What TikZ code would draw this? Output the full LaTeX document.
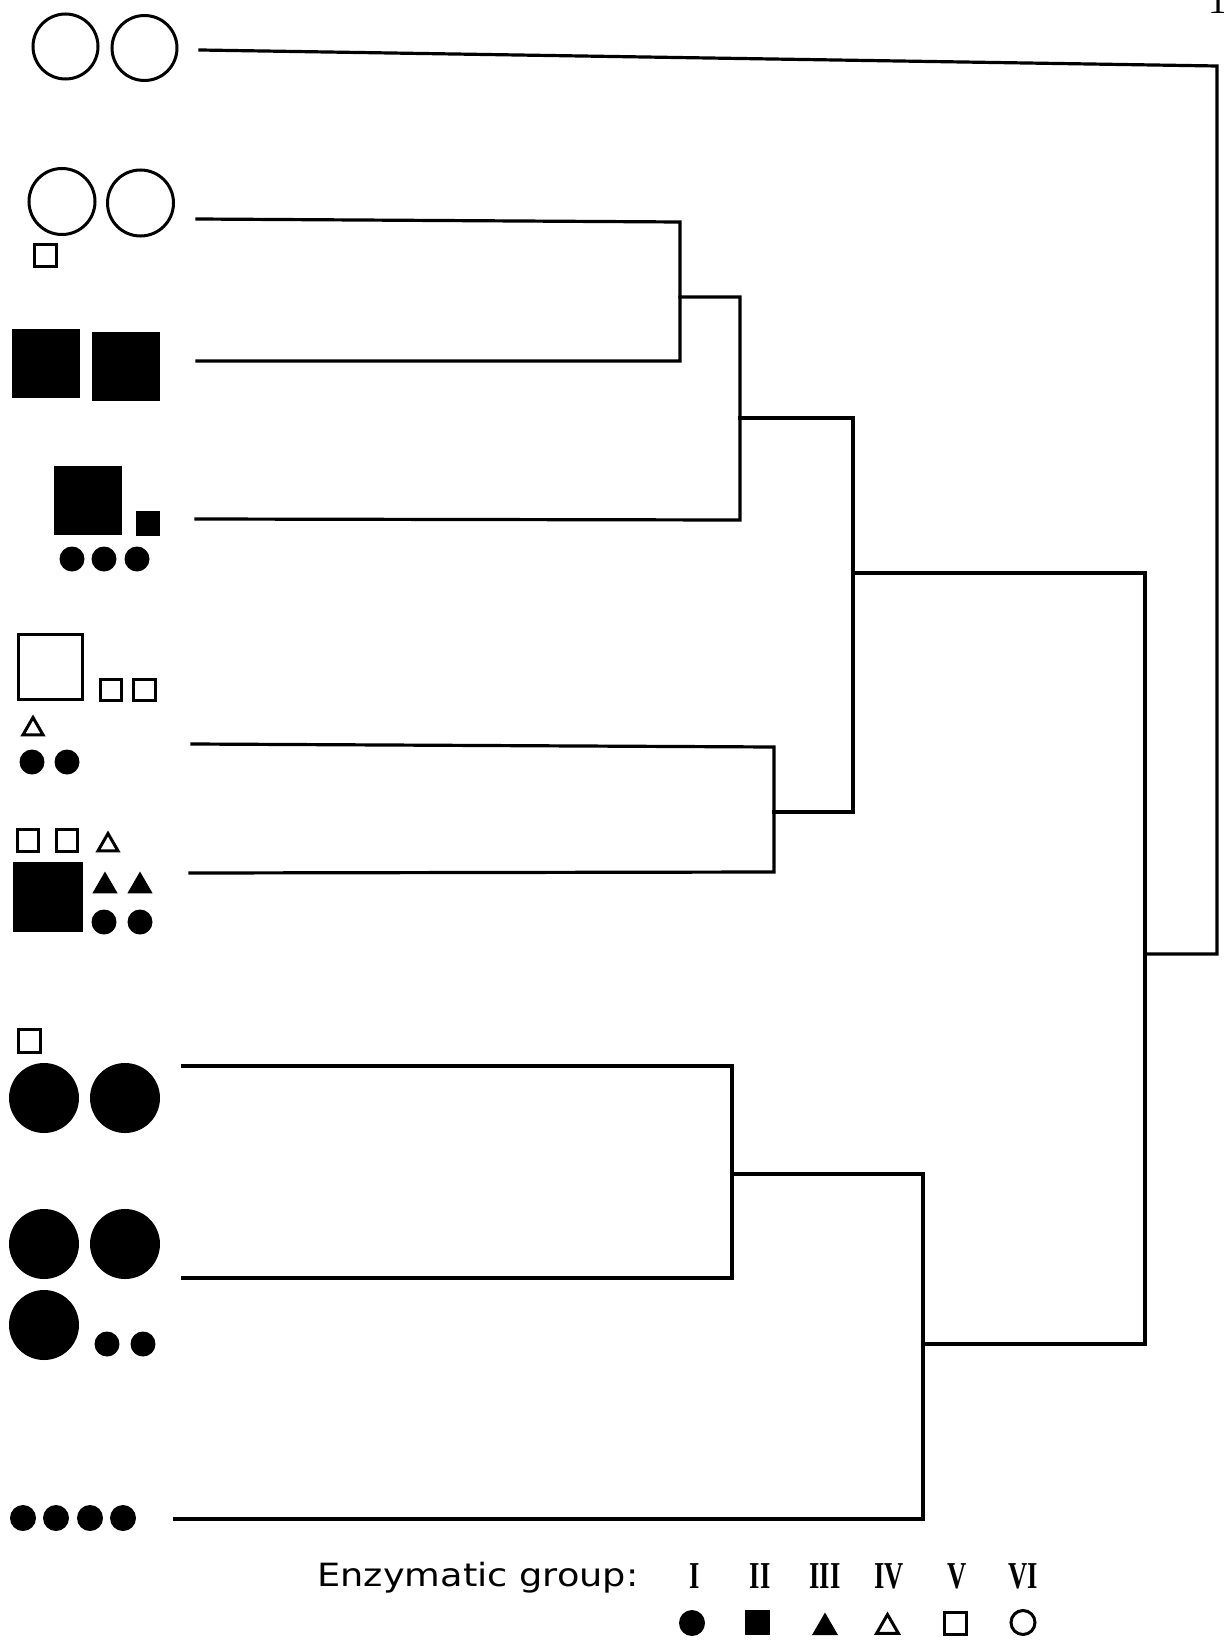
\documentclass[tikz,border=0pt]{standalone}
\usepackage{fontspec}
\usepackage{graphicx}
\setmainfont{Liberation Serif}
\newfontfamily\legendfont{DejaVu Sans}
\usetikzlibrary{shapes.geometric}
\tikzset{
 den/.style={line width=3.2pt, line join=miter, line cap=rect},
 sym/.style={inner sep=0pt, outer sep=0pt},
 oc/.style={sym, circle, draw, line width=3pt, minimum size=#1},
 fc/.style={sym, circle, fill, minimum size=#1},
 os/.style={sym, rectangle, draw, line width=3pt, minimum size=#1},
 fs/.style={sym, rectangle, fill, minimum size=#1},
 ot/.style={sym, regular polygon, regular polygon sides=3, draw, line width=3pt, minimum size=#1},
 ft/.style={sym, regular polygon, regular polygon sides=3, fill, minimum size=#1},
 numeral/.style={anchor=base, font=\bfseries\fontsize{38}{40}\selectfont},
}
\begin{document}
\begin{tikzpicture}[x=1pt,y=-1pt]
\useasboundingbox (0,0) rectangle (1223,1640);

% ---- leaf symbols ----
% leaf 1
\node[oc=65] (s1a) at (65.5,46.5) {};
\node[oc=65] (s1b) at (144.5,48) {};
% leaf 2
\node[oc=66] (s2a) at (62,201.5) {};
\node[oc=66] (s2b) at (140.5,203) {};
\node[os=22] (s2c) at (45,255.5) {};
% leaf 3
\node[fs=68.5] (s3a) at (46,363.5) {};
\node[fs=68.5] (s3b) at (126,366.5) {};
% leaf 4
\node[fs=68.5] (s4a) at (88,500.5) {};
\node[fs=24.5] (s4b) at (148,523.5) {};
\node[fc=25] (s4c) at (72,559) {};
\node[fc=25] (s4d) at (104,559) {};
\node[fc=25] (s4e) at (137,559) {};
% leaf 5
\node[os=64.5] (s5a) at (50.5,667) {};
\node[os=21.5] (s5b) at (111,690) {};
\node[os=21.5] (s5c) at (144.5,690) {};
\node[ot=23] (s5d) at (33,729) {};
\node[fc=25] (s5e) at (32,762) {};
\node[fc=25] (s5f) at (67,762) {};
% leaf 6
\node[os=21.5] (s6a) at (28,840.5) {};
\node[os=21.5] (s6b) at (67,840.5) {};
\node[ot=23] (s6c) at (108,845) {};
\node[fs=70] (s6d) at (48,897) {};
\node[ft=29] (s6e) at (105,886) {};
\node[ft=29] (s6f) at (140,886) {};
\node[fc=25] (s6g) at (104,922) {};
\node[fc=25] (s6h) at (140,922) {};
% leaf 7
\node[os=22.5] (s7a) at (29.5,1041) {};
\node[fc=70] (s7b) at (44,1098) {};
\node[fc=70] (s7c) at (125,1098) {};
% leaf 8
\node[fc=70] (s8a) at (44,1244) {};
\node[fc=70] (s8b) at (125,1244) {};
\node[fc=70] (s8c) at (44,1325) {};
\node[fc=25] (s8d) at (107,1344) {};
\node[fc=25] (s8e) at (143,1344) {};
% leaf 9
\node[fc=26] (s9a) at (23,1518) {};
\node[fc=26] (s9b) at (56,1518) {};
\node[fc=26] (s9c) at (90,1518) {};
\node[fc=26] (s9d) at (123,1518) {};

% ---- dendrogram ----
\coordinate (L1) at (200,50);
\coordinate (L2) at (197,219);
\coordinate (L3) at (197,361);
\coordinate (L4) at (196,519);
\coordinate (L5) at (192,744);
\coordinate (L6) at (190,873);
\coordinate (L7) at (183,1066);
\coordinate (L8) at (183,1278);
\coordinate (L9) at (175,1519);
\coordinate (A) at (680,297);
\coordinate (B) at (740,418);
\coordinate (C) at (774,812);
\coordinate (D) at (853,573);
\coordinate (E) at (732,1174);
\coordinate (F) at (923,1344);
\coordinate (G) at (1145,954);
\coordinate (R1) at (1217,66);

\draw[den] (L1) -- (R1) -- (1217,954) -- (G);
\draw[den] (L2) -- (680,222) -- (680,361) -- (L3);
\draw[den] (A) -- (740,297) -- (740,520) -- (L4);
\draw[den] (B) -- (853,418) -- (853,812) -- (C);
\draw[den] (L5) -- (774,747) -- (774,872) -- (L6);
\draw[den] (D) -- (1145,573) -- (1145,1344) -- (F);
\draw[den] (L7) -- (732,1066) -- (732,1278) -- (L8);
\draw[den] (E) -- (923,1174) -- (923,1519) -- (L9);

% ---- legend ----
\node[anchor=base west, font=\legendfont\fontsize{32}{36}\selectfont] (lbl) at (314,1586) {\scalebox{1.146}[1]{Enzymatic group:}};
\node[numeral] (n1) at (695,1588) {\scalebox{0.7}[1]{I}};
\node[numeral] (n2) at (760,1588) {\scalebox{0.7}[1]{II}};
\node[numeral] (n3) at (825,1588) {\scalebox{0.7}[1]{III}};
\node[numeral] (n4) at (889,1588) {\scalebox{0.7}[1]{IV}};
\node[numeral] (n5) at (957,1588) {\scalebox{0.7}[1]{V}};
\node[numeral] (n6) at (1023,1588) {\scalebox{0.7}[1]{VI}};
\node[fc=26] (g1) at (692,1623) {};
\node[fs=25] (g2) at (757.5,1622.5) {};
\node[ft=30] (g3) at (825,1627.5) {};
\node[ot=25] (g4) at (887.5,1627) {};
\node[os=22.5] (g5) at (955.5,1623.5) {};
\node[oc=24] (g6) at (1023,1622.5) {};

% page number fragment (cut at the top edge, as in the reference)
\node[numeral, font=\fontsize{38}{40}\selectfont] (pg) at (1218,14) {1};
\end{tikzpicture}
\end{document}
